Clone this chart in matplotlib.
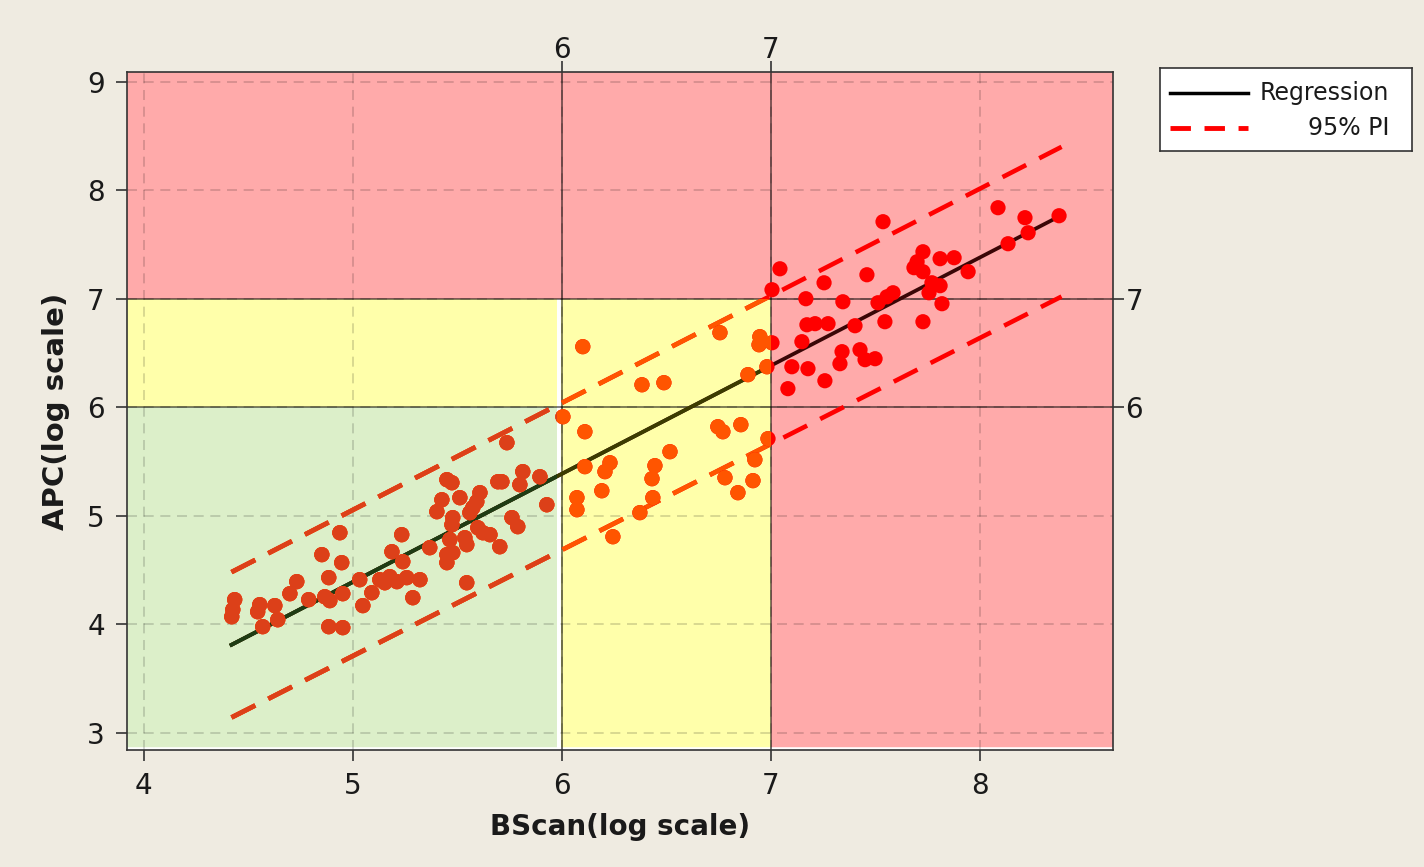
import matplotlib
matplotlib.use("Agg")
import matplotlib.pyplot as plt
from matplotlib.patches import Rectangle
from matplotlib.lines import Line2D
import numpy as np

# ---------------- data ----------------
bscan = [4.435, 4.426, 4.421, 4.555, 4.545, 4.627, 4.641, 4.569, 4.699, 4.732,
         4.789, 4.866, 4.890, 4.885, 4.852, 4.938, 4.947, 4.952, 4.885, 4.952,
         5.033, 5.048, 5.091, 5.129, 5.153, 5.177, 5.211, 5.258, 5.234, 5.187,
         5.239, 5.287, 5.321, 5.368, 5.450, 5.478, 5.450, 5.402, 5.426, 5.450,
         5.474, 5.512, 5.478, 5.474, 5.464, 5.536, 5.545, 5.545, 5.560, 5.574,
         5.593, 5.608, 5.598, 5.622, 5.656, 5.703, 5.694, 5.713, 5.737, 5.761,
         5.789, 5.799, 5.813, 5.895, 5.928,
         6.100, 6.005, 6.110, 6.110, 6.230, 6.206, 6.191, 6.072, 6.072, 6.383,
         6.488, 6.517, 6.445, 6.431, 6.435, 6.373, 6.244, 6.756, 6.947, 6.943,
         6.890, 6.981, 7.005, 6.746, 6.770, 6.856, 6.780, 6.842, 6.914, 6.923,
         6.986,
         7.043, 7.005, 7.254, 7.459, 7.167, 7.344, 7.512, 7.555, 7.584, 7.172,
         7.211, 7.273, 7.402, 7.545, 7.727, 7.148, 7.340, 7.330, 7.426, 7.450,
         7.498, 7.100, 7.177, 7.258, 7.081, 7.536, 8.086, 8.215, 8.378, 8.230,
         8.134, 7.727, 7.809, 7.876, 7.699, 7.684, 7.727, 7.943, 7.770, 7.809,
         7.756, 7.818]
apc = [4.226, 4.134, 4.069, 4.180, 4.115, 4.171, 4.041, 3.977, 4.281, 4.392,
       4.226, 4.253, 4.217, 4.429, 4.641, 4.843, 4.567, 4.281, 3.977, 3.968,
       4.410, 4.171, 4.290, 4.410, 4.382, 4.438, 4.392, 4.429, 4.825, 4.668,
       4.576, 4.244, 4.410, 4.705, 4.641, 4.659, 4.567, 5.037, 5.147, 5.332,
       5.304, 5.166, 4.982, 4.917, 4.779, 4.797, 4.733, 4.382, 5.028, 5.074,
       5.129, 5.212, 4.889, 4.843, 4.825, 4.714, 5.313, 5.313, 5.673, 4.982,
       4.899, 5.286, 5.406, 5.359, 5.101,
       6.558, 5.912, 5.774, 5.452, 5.488, 5.406, 5.230, 5.166, 5.055, 6.207,
       6.226, 5.590, 5.461, 5.341, 5.166, 5.028, 4.806, 6.687, 6.650, 6.576,
       6.300, 6.373, 6.594, 5.820, 5.774, 5.839, 5.350, 5.212, 5.323, 5.516,
       5.710,
       7.276, 7.083, 7.147, 7.221, 7.000, 6.972, 6.963, 7.018, 7.055, 6.760,
       6.770, 6.770, 6.751, 6.788, 6.788, 6.604, 6.512, 6.401, 6.530, 6.438,
       6.447, 6.373, 6.355, 6.244, 6.171, 7.710, 7.839, 7.747, 7.765, 7.608,
       7.507, 7.433, 7.369, 7.378, 7.341, 7.286, 7.249, 7.249, 7.147, 7.120,
       7.055, 6.954]

fit_x = [4.42, 8.39]
fit_y = [3.81, 7.77]
pi_upper = [4.48, 8.40]
pi_lower = [3.14, 7.02]

x_ticks = [4, 5, 6, 7, 8]
y_ticks = [3, 4, 5, 6, 7, 8, 9]
top_ticks = [6, 7]
right_ticks = [7, 6]
x_label = "BScan(log scale)"
y_label = "APC(log scale)"
legend_labels = ["Regression", "95% PI"]

# ---------------- figure ----------------
BG = "#efebe1"
fig = plt.figure(figsize=(14.24, 8.67), dpi=100, facecolor=BG)
ax = fig.add_axes([127 / 1424, 1 - 750 / 867, (1113 - 127) / 1424, (750 - 72) / 867])

xmin, xmax = 3.92, 8.636
ymin, ymax = 2.84, 9.09
ax.set_xlim(xmin, xmax)
ax.set_ylim(ymin, ymax)
ax.set_facecolor("#ffaaaa")

# overlay regions
yellow = Rectangle((xmin, ymin), 7 - xmin, 7 - ymin, facecolor="#ffffaa",
                   edgecolor="none", zorder=0.3)
green = Rectangle((xmin, ymin), 5.976 - xmin, 6 - ymin, facecolor="#dcefc9",
                  edgecolor="none", zorder=0.4)
ax.add_patch(yellow)
ax.add_patch(green)
ax.add_patch(Rectangle((5.976, ymin), 0.018, 7 - ymin, facecolor="white",
                       edgecolor="none", zorder=0.45))
ax.axhline(ymin, color="white", lw=4, zorder=0.46)

# grid
ax.set_xticks(x_ticks)
ax.set_yticks(y_ticks)
ax.grid(True, color="black", alpha=0.18, lw=1.2, ls=(0, (6, 4)), zorder=0.5)
ax.set_axisbelow(True)

# threshold lines
for v in (6, 7):
    ax.axvline(v, color="black", alpha=0.5, lw=1.4, zorder=0.6)
    ax.axhline(v, color="black", alpha=0.5, lw=1.4, zorder=0.6)

# data layers: base (red region colours), then clipped recolours
layers = [
    (None, "#ff0000", "#3a0606"),
    (yellow, "#ff5500", "#3c3c00"),
    (green, "#dc4019", "#1e3c14"),
]
for clip, pcol, lcol in layers:
    arts = []
    arts += ax.plot(fit_x, fit_y, color=lcol, lw=2.7, zorder=3)
    arts += ax.plot(fit_x, pi_upper, color=pcol, lw=3.3, dashes=(5.8, 3.2), zorder=3)
    arts += ax.plot(fit_x, pi_lower, color=pcol, lw=3.3, dashes=(5.8, 3.2), zorder=3)
    arts.append(ax.scatter(bscan, apc, s=120, color=pcol, edgecolors="none", zorder=4))
    if clip is not None:
        for a in arts:
            a.set_clip_path(clip)

# spines & ticks
for s in ax.spines.values():
    s.set_color("#333333")
    s.set_linewidth(1.2)
ax.tick_params(axis="both", direction="out", length=8, width=1.2, color="#333333",
               labelsize=20, labelcolor="#1a1a1a", pad=8)

secx = ax.secondary_xaxis("top")
secx.set_xticks(top_ticks)
secx.tick_params(direction="out", length=8, width=1.2, color="#333333",
                 labelsize=20, labelcolor="#1a1a1a", pad=-2)
secy = ax.secondary_yaxis("right")
secy.set_yticks(right_ticks)
secy.tick_params(direction="out", length=8, width=1.2, color="#333333",
                 labelsize=20, labelcolor="#1a1a1a", pad=1)
for sp in list(secx.spines.values()) + list(secy.spines.values()):
    sp.set_visible(False)

ax.set_xlabel(x_label, fontsize=20, fontweight="bold", color="#1a1a1a", labelpad=9)
ax.set_ylabel(y_label, fontsize=21, fontweight="bold", color="#1a1a1a", labelpad=12)

# custom legend (right-aligned labels)
lax = fig.add_axes([1160 / 1424, 1 - 151 / 867, 252 / 1424, 83 / 867])
lax.set_xlim(0, 1)
lax.set_ylim(0, 1)
lax.set_xticks([])
lax.set_yticks([])
lax.set_facecolor("white")
for s in lax.spines.values():
    s.set_color("#333333")
    s.set_linewidth(1.2)
lax.add_line(Line2D([0.04, 0.35], [0.70, 0.70], color="black", lw=2.5))
lax.add_line(Line2D([0.04, 0.35], [0.28, 0.28], color="#ff0000", lw=3.5,
                    dashes=(4.2, 2.8)))
lax.text(0.91, 0.70, legend_labels[0], ha="right", va="center", fontsize=17,
         color="#1a1a1a")
lax.text(0.91, 0.28, legend_labels[1], ha="right", va="center", fontsize=17,
         color="#1a1a1a")

fig.savefig("out.png", dpi=100, facecolor=BG)
